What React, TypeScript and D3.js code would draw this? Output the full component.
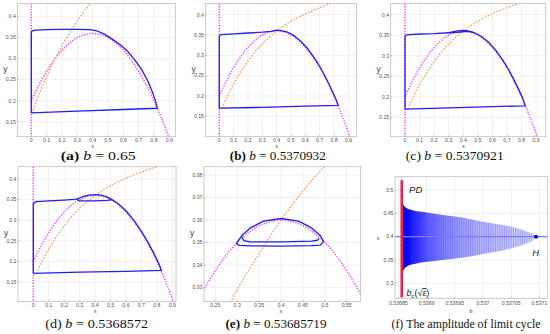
import * as d3 from 'd3';

// prey nullcline (magenta dotted), same in every phase plane
const preyNullX = [0, 0.05, 0.1, 0.15, 0.2, 0.25, 0.3, 0.35, 0.4, 0.45, 0.5, 0.55, 0.6, 0.65, 0.7, 0.75, 0.8, 0.85, 0.9, 0.95];
const preyNullY = [0.2, 0.2375, 0.27, 0.2975, 0.32, 0.3375, 0.35, 0.3575, 0.36, 0.3575, 0.35, 0.3375, 0.32, 0.2975, 0.27, 0.2375, 0.2, 0.1575, 0.11, 0.0575];

// predator nullcline (orange dashed): b = 0.65, and b close to 0.537
const predNullXA = [0.005, 0.02, 0.05, 0.1, 0.15, 0.2, 0.25, 0.3, 0.35, 0.4, 0.45];
const predNullYA = [0.17, 0.186, 0.215, 0.258, 0.296, 0.331, 0.362, 0.39, 0.415, 0.437, 0.457];
const predNullX = [0.02, 0.05, 0.1, 0.15, 0.2, 0.25, 0.3, 0.35, 0.4, 0.45, 0.5, 0.6, 0.7, 0.8, 0.9];
const predNullY = [0.17, 0.195, 0.23, 0.26, 0.286, 0.309, 0.329, 0.345, 0.36, 0.373, 0.384, 0.402, 0.417, 0.43, 0.441];

// limit cycles (blue)
const cycleXA = [0, 0, 0.004, 0.03, 0.1, 0.2, 0.3, 0.38, 0.43, 0.48, 0.53, 0.58, 0.63, 0.68, 0.72, 0.76, 0.79, 0.81, 0.822, 0.6, 0.3, 0];
const cycleYA = [0.171, 0.362, 0.366, 0.368, 0.369, 0.37, 0.37, 0.369, 0.366, 0.358, 0.346, 0.333, 0.317, 0.295, 0.274, 0.247, 0.221, 0.199, 0.182, 0.179, 0.175, 0.171];

const cycleXB = [0, 0, 0.01, 0.1, 0.2, 0.3, 0.36, 0.4, 0.43, 0.47, 0.52, 0.57, 0.62, 0.67, 0.71, 0.75, 0.78, 0.81, 0.83, 0.6, 0.3, 0];
const cycleYB = [0.17, 0.347, 0.351, 0.353, 0.355, 0.357, 0.359, 0.362, 0.361, 0.358, 0.349, 0.334, 0.315, 0.29, 0.267, 0.24, 0.218, 0.195, 0.177, 0.175, 0.172, 0.17];

const cycleXC = [0, 0, 0.01, 0.1, 0.2, 0.3, 0.36, 0.41, 0.45, 0.48, 0.52, 0.57, 0.62, 0.67, 0.71, 0.75, 0.78, 0.81, 0.825, 0.6, 0.3, 0];
const cycleYC = [0.17, 0.347, 0.351, 0.353, 0.354, 0.356, 0.357, 0.359, 0.359, 0.355, 0.348, 0.334, 0.315, 0.29, 0.267, 0.24, 0.218, 0.195, 0.178, 0.176, 0.173, 0.17];
const loopXC = [0.3, 0.35, 0.4, 0.44, 0.47];
const loopYC = [0.356, 0.36, 0.3615, 0.36, 0.357];

const cycleXD = [0, 0, 0.015, 0.1, 0.2, 0.28, 0.32, 0.36, 0.4, 0.44, 0.48, 0.51, 0.55, 0.6, 0.65, 0.7, 0.74, 0.78, 0.81, 0.83, 0.6, 0.3, 0];
const cycleYD = [0.171, 0.34, 0.345, 0.347, 0.349, 0.351, 0.357, 0.361, 0.362, 0.361, 0.356, 0.35, 0.34, 0.323, 0.3, 0.273, 0.248, 0.22, 0.197, 0.178, 0.176, 0.174, 0.171];
const loopXD = [0.28, 0.3, 0.4, 0.48, 0.51];
const loopYD = [0.351, 0.347, 0.347, 0.348, 0.35];

const cycleXE = [0.298, 0.31, 0.33, 0.36, 0.4, 0.44, 0.47, 0.49, 0.497, 0.49, 0.47, 0.4, 0.33, 0.305, 0.298];
const cycleYE = [0.3495, 0.353, 0.3565, 0.3595, 0.3607, 0.3595, 0.3565, 0.353, 0.3505, 0.3488, 0.3486, 0.3484, 0.3485, 0.3487, 0.3495];
const loopXE = [0.311, 0.315, 0.33, 0.4, 0.47, 0.483, 0.487];
const loopYE = [0.3525, 0.3508, 0.3503, 0.3503, 0.3506, 0.351, 0.3518];

// ticks
const phaseXTicks = [0, 0.1, 0.2, 0.3, 0.4, 0.5, 0.6, 0.7, 0.8, 0.9];
const phaseYTicks = [0.15, 0.2, 0.25, 0.3, 0.35, 0.4];
const zoomXTicks = [0.25, 0.3, 0.35, 0.4, 0.45, 0.5, 0.55];
const zoomYTicks = [0.33, 0.34, 0.35, 0.36, 0.37, 0.38];
const bifXTicks = [0.53685, 0.5369, 0.53695, 0.537, 0.53705, 0.5371];
const bifYTicks = [0.3, 0.35, 0.4, 0.45, 0.5];

// amplitude of the limit cycle vs b
const bPD = 0.536856;
const bHopf = 0.537094;
const xEq = 0.4;
const envB = [0.536857, 0.53686, 0.536865, 0.53687, 0.53688, 0.5369, 0.53692, 0.53695, 0.53698, 0.537, 0.53703, 0.53705, 0.53707, 0.53708, 0.53709, 0.537094];
const envTop = [0.473, 0.466, 0.461, 0.458, 0.455, 0.452, 0.448, 0.443, 0.437, 0.432, 0.426, 0.421, 0.414, 0.41, 0.405, 0.4];
const envBottom = [0.322, 0.33, 0.336, 0.339, 0.342, 0.346, 0.349, 0.353, 0.358, 0.363, 0.369, 0.375, 0.382, 0.387, 0.394, 0.4];
const sweepB = [
  0.536872, 0.536875, 0.536878, 0.536881, 0.536884, 0.536887, 0.53689, 0.536893, 0.536896, 0.536899,
  0.536902, 0.536905, 0.536908, 0.536911, 0.536914, 0.536918, 0.536922, 0.536926, 0.53693, 0.536934,
  0.536938, 0.536942, 0.536946, 0.53695, 0.536954, 0.536958, 0.536962, 0.536966, 0.53697, 0.536974,
  0.536978, 0.536982, 0.536986, 0.53699, 0.536994, 0.536998, 0.537002, 0.537006, 0.53701, 0.537014,
  0.537018, 0.537022, 0.537026, 0.53703, 0.537034, 0.537038, 0.537042, 0.537046, 0.53705, 0.537054,
  0.537058, 0.537062, 0.537066, 0.53707, 0.537074, 0.537078, 0.537082, 0.537086, 0.53709,
];

const captionTags = ['a', 'b', 'c', 'd', 'e', 'f'];
const captionValues = ['0.65', '0.5370932', '0.5370921', '0.5368572', '0.53685719', ''];
const captionF = 'The amplitude of limit cycle';

type Box = { l: number; t: number; r: number; b: number };
type Scale = d3.ScaleLinear<number, number>;

const BLUE = '#1f1ff5';
const MAGENTA = '#ff3cff';
const ORANGE = '#ff9a60';
const SANS = "'Liberation Sans', Arial, sans-serif";
const SERIF = "'Liberation Serif', 'Times New Roman', serif";

const magentaStyle = { fill: 'none', stroke: MAGENTA, strokeWidth: 1.5, strokeDasharray: '1.2 1.5' };
const orangeStyle = { fill: 'none', stroke: ORANGE, strokeWidth: 1.2, strokeDasharray: '1.8 1.5' };

function pathOf(xs: number[], ys: number[], sx: Scale, sy: Scale, curve: d3.CurveFactory = d3.curveLinear) {
  return (
    d3
      .line<number>()
      .x(i => sx(xs[i]))
      .y(i => sy(ys[i]))
      .curve(curve)(xs.map((_, i) => i)) ?? ''
  );
}

type AxesProps = {
  id: string;
  box: Box;
  sx: Scale;
  sy: Scale;
  xTicks: number[];
  yTicks: number[];
  xLabel: string;
  yLabel: string;
  xLabelX: number;
  yLabelSize: number;
  tickGap: number;
  labelGap: number;
  children: React.ReactNode;
};

function Axes({ id, box, sx, sy, xTicks, yTicks, xLabel, yLabel, xLabelX, yLabelSize, tickGap, labelGap, children }: AxesProps) {
  const w = box.r - box.l;
  const h = box.b - box.t;
  return (
    <g>
      <defs>
        <clipPath id={id}>
          <rect x={box.l} y={box.t} width={w} height={h} />
        </clipPath>
      </defs>
      {xTicks.map(t => (
        <line key={'gx' + t} x1={sx(t)} x2={sx(t)} y1={box.t} y2={box.b} stroke="#e6e6e6" strokeWidth={0.6} />
      ))}
      {yTicks.map(t => (
        <line key={'gy' + t} x1={box.l} x2={box.r} y1={sy(t)} y2={sy(t)} stroke="#e6e6e6" strokeWidth={0.6} />
      ))}
      <g clipPath={`url(#${id})`}>{children}</g>
      <rect x={box.l} y={box.t} width={w} height={h} fill="none" stroke="#b5b5b5" strokeWidth={0.7} />
      {xTicks.map(t => (
        <line key={'tx' + t} x1={sx(t)} x2={sx(t)} y1={box.b} y2={box.b - 1.5} stroke="#999" strokeWidth={0.5} />
      ))}
      {yTicks.map(t => (
        <line key={'ty' + t} x1={box.l} x2={box.l + 1.5} y1={sy(t)} y2={sy(t)} stroke="#999" strokeWidth={0.5} />
      ))}
      {xTicks.map(t => (
        <text key={'lx' + t} x={sx(t)} y={box.b + tickGap} textAnchor="middle" fontFamily={SANS} fontSize={5.2} fill="#555">
          {String(t)}
        </text>
      ))}
      {yTicks.map(t => (
        <text key={'ly' + t} x={box.l - 1.5} y={sy(t) + 1.8} textAnchor="end" fontFamily={SANS} fontSize={5.2} fill="#555">
          {String(t)}
        </text>
      ))}
      <text x={xLabelX} y={box.b + labelGap} textAnchor="middle" fontFamily={SANS} fontSize={5.5} fill="#444">
        {xLabel}
      </text>
      <text x={box.l - (yLabelSize > 7 ? 12 : 17)} y={(box.t + box.b) / 2 + 2} textAnchor="middle" fontFamily={SANS} fontSize={yLabelSize} fill="#444">
        {yLabel}
      </text>
    </g>
  );
}

type PhaseProps = {
  id: string;
  box: Box;
  xDom: [number, number];
  yDom: [number, number];
  pred: [number[], number[]];
  cycles: [number[], number[]][];
  zoomed?: boolean;
};

function PhasePanel({ id, box, xDom, yDom, pred, cycles, zoomed }: PhaseProps) {
  const sx = d3.scaleLinear().domain(xDom).range([box.l, box.r]);
  const sy = d3.scaleLinear().domain(yDom).range([box.b, box.t]);
  return (
    <Axes
      id={id}
      box={box}
      sx={sx}
      sy={sy}
      xTicks={zoomed ? zoomXTicks : phaseXTicks}
      yTicks={zoomed ? zoomYTicks : phaseYTicks}
      xLabel="x"
      yLabel="y"
      xLabelX={sx(0.4)}
      yLabelSize={8.5}
      tickGap={5}
      labelGap={11.3}
    >
      {!zoomed && <line x1={sx(0)} x2={sx(0)} y1={box.t} y2={box.b} {...magentaStyle} />}
      <path d={pathOf(preyNullX, preyNullY, sx, sy, d3.curveCatmullRom)} {...magentaStyle} />
      <path d={pathOf(pred[0], pred[1], sx, sy, d3.curveCatmullRom)} {...orangeStyle} />
      {cycles.map(([cx, cy], k) => (
        <path key={k} d={pathOf(cx, cy, sx, sy)} fill="none" stroke={BLUE} strokeWidth={1.3} strokeLinejoin="round" />
      ))}
    </Axes>
  );
}

function AmplitudePanel({ box }: { box: Box }) {
  const sx = d3.scaleLinear().domain([0.536844, 0.537114]).range([box.l, box.r]);
  const sy = d3.scaleLinear().domain([0.2678, 0.5285]).range([box.b, box.t]);
  const idx = envB.map((_, i) => i);
  const envelope =
    d3
      .area<number>()
      .x(i => sx(envB[i]))
      .y0(i => sy(envBottom[i]))
      .y1(i => sy(envTop[i]))
      .curve(d3.curveMonotoneX)(idx) ?? '';
  return (
    <Axes
      id="clipF"
      box={box}
      sx={sx}
      sy={sy}
      xTicks={bifXTicks}
      yTicks={bifYTicks}
      xLabel="b"
      yLabel="x"
      xLabelX={(box.l + box.r) / 2}
      yLabelSize={5.5}
      tickGap={7}
      labelGap={14.5}
    >
      <defs>
        <linearGradient id="ampGrad" gradientUnits="userSpaceOnUse" x1={sx(bPD)} x2={sx(bHopf)} y1={0} y2={0}>
          <stop offset="0" stopColor="#0000ee" />
          <stop offset="0.06" stopColor="#0a0aff" />
          <stop offset="0.12" stopColor="#3030ff" />
          <stop offset="0.2" stopColor="#6060ff" />
          <stop offset="0.4" stopColor="#9a9aff" />
          <stop offset="0.6" stopColor="#bcbcff" />
          <stop offset="1" stopColor="#dadaff" />
        </linearGradient>
        <clipPath id="envClip">
          <path d={envelope} />
        </clipPath>
      </defs>
      <path d={envelope} fill="url(#ampGrad)" />
      <g clipPath="url(#envClip)">
        {sweepB.map(b => (
          <line key={b} x1={sx(b)} x2={sx(b)} y1={sy(0.5)} y2={sy(0.3)} stroke="#3f3fff" strokeOpacity={0.45} strokeWidth={0.8} />
        ))}
      </g>
      <line x1={box.l} x2={box.r} y1={sy(xEq)} y2={sy(xEq)} stroke="#7a7aff" strokeWidth={1.2} />
      <circle cx={sx(bHopf)} cy={sy(xEq)} r={2} fill="#0000ff" />
      <line x1={sx(bPD)} x2={sx(bPD)} y1={sy(0.521)} y2={sy(0.27)} stroke="#e5163c" strokeWidth={2.6} />
      <line x1={sx(bPD)} x2={sx(bPD)} y1={box.t} y2={box.b} stroke={MAGENTA} strokeWidth={1} strokeDasharray="1 1.5" />
      <text x={sx(0.536869)} y={sy(0.493)} fontFamily={SANS} fontStyle="italic" fontSize={9.5} fill="#222">
        PD
      </text>
      <text x={sx(0.5370873)} y={sy(0.3594)} fontFamily={SANS} fontStyle="italic" fontSize={9.5} fill="#222">
        H
      </text>
      <text x={sx(0.5368643)} y={sy(0.2725)} fontFamily={SANS} fontSize={9} fill="#222">
        <tspan fontStyle="italic">b</tspan>
        <tspan fontSize={6} dy={2}>c</tspan>
        <tspan dy={-2}>(√</tspan>
        <tspan fontStyle="italic" style={{ textDecoration: 'overline' }}>ε</tspan>
        <tspan>)</tspan>
      </text>
    </Axes>
  );
}

function Caption({ cx, y, index, width, bold }: { cx: number; y: number; index: number; width: number; bold: boolean }) {
  const value = captionValues[index];
  return (
    <text x={cx} y={y} textAnchor="middle" fontFamily={SERIF} fontSize={12} fill="#111" textLength={width} lengthAdjust="spacingAndGlyphs">
      <tspan fontWeight={bold ? 'bold' : 'normal'}>({captionTags[index]})</tspan>
      {value ? (
        <>
          <tspan fontStyle="italic">{'\u00a0b'}</tspan>
          <tspan>{'\u00a0=\u00a0' + value}</tspan>
        </>
      ) : (
        <tspan>{'\u00a0' + captionF}</tspan>
      )}
    </text>
  );
}

export default function App() {
  return (
    <svg width={550} height={334} style={{ position: 'absolute', left: 0, top: 0, background: '#fff' }}>
      <PhasePanel
        id="clipA"
        box={{ l: 17.3, t: 3.5, r: 175.7, b: 136.7 }}
        xDom={[-0.0913, 0.9418]}
        yDom={[0.1143, 0.4314]}
        pred={[predNullXA, predNullYA]}
        cycles={[[cycleXA, cycleYA]]}
      />
      <PhasePanel
        id="clipB"
        box={{ l: 205.5, t: 3.5, r: 356.5, b: 136.7 }}
        xDom={[-0.096, 0.957]}
        yDom={[0.0998, 0.4276]}
        pred={[predNullX, predNullY]}
        cycles={[[cycleXB, cycleYB]]}
      />
      <PhasePanel
        id="clipC"
        box={{ l: 390.7, t: 3.5, r: 545.7, b: 136.7 }}
        xDom={[-0.0982, 0.966]}
        yDom={[0.1027, 0.4273]}
        pred={[predNullX, predNullY]}
        cycles={[
          [cycleXC, cycleYC],
          [loopXC, loopYC],
        ]}
      />
      <PhasePanel
        id="clipD"
        box={{ l: 18, t: 166.7, r: 176, b: 301.7 }}
        xDom={[-0.099, 0.924]}
        yDom={[0.1022, 0.4299]}
        pred={[predNullX, predNullY]}
        cycles={[
          [cycleXD, cycleYD],
          [loopXD, loopYD],
        ]}
      />
      <PhasePanel
        id="clipE"
        box={{ l: 204, t: 166.7, r: 360.7, b: 301.7 }}
        xDom={[0.2242, 0.582]}
        yDom={[0.3236, 0.3838]}
        pred={[predNullX, predNullY]}
        cycles={[
          [cycleXE, cycleYE],
          [loopXE, loopYE],
        ]}
        zoomed
      />
      <AmplitudePanel box={{ l: 395, t: 176.7, r: 547.3, b: 298.3 }} />

      <Caption cx={98.3} y={160.3} index={0} width={75} bold />
      <Caption cx={277.8} y={160.3} index={1} width={96} bold />
      <Caption cx={454.8} y={160.3} index={2} width={98} bold={false} />
      <Caption cx={96.7} y={327.5} index={3} width={103} bold={false} />
      <Caption cx={276} y={327.5} index={4} width={101} bold />
      <Caption cx={466} y={327.5} index={5} width={149} bold={false} />
    </svg>
  );
}
